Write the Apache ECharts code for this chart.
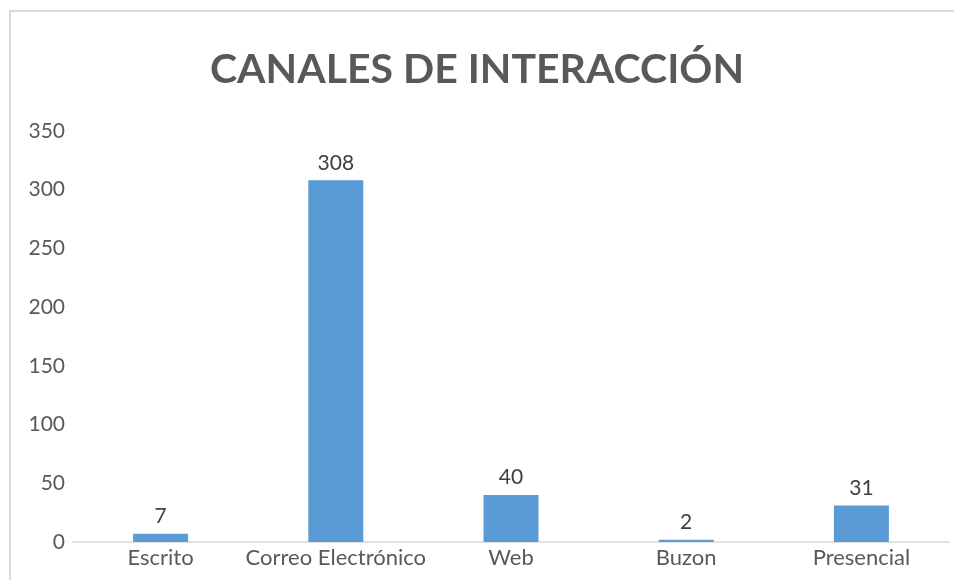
<!DOCTYPE html>
<html>
<head>
<meta charset="utf-8">
<script src="https://cdn.jsdelivr.net/npm/echarts@6/dist/echarts.min.js"></script>
<style>
  html, body { margin: 0; padding: 0; background: #fff; }
  #chart { width: 954px; height: 580px; }
</style>
</head>
<body>
<div id="chart"></div>
<script>
  var categories = ['Escrito', 'Correo Electrónico', 'Web', 'Buzon', 'Presencial']
  var values = [7, 308, 40, 2, 31]
  var yTicks = { min: 0, max: 350, interval: 50 }

  var chart = echarts.init(document.getElementById('chart'))
  chart.setOption({
    backgroundColor: '#fff',
    textStyle: { fontFamily: 'Lato' },
    graphic: [{
      type: 'rect',
      shape: { x: 10, y: 11, width: 1200, height: 1200 },
      style: { fill: 'none', stroke: '#d9d9d9', lineWidth: 2 },
      silent: true
    }],
    title: {
      text: 'CANALES DE INTERACCIÓN',
      left: 'center',
      top: 44,
      textStyle: {
        fontFamily: 'Lato',
        fontWeight: 'bold',
        fontSize: 41,
        color: '#595959'
      }
    },
    grid: {
      left: 73,
      right: 5,
      top: 131,
      bottom: 38
    },
    xAxis: {
      type: 'category',
      data: categories,
      axisLine: { lineStyle: { color: '#d9d9d9', width: 1.5 } },
      axisTick: { show: false },
      axisLabel: {
        interval: 0,
        color: '#595959',
        fontSize: 22,
        margin: 5
      }
    },
    yAxis: {
      type: 'value',
      min: yTicks.min,
      max: yTicks.max,
      interval: yTicks.interval,
      splitLine: { show: false },
      axisLine: { show: false },
      axisTick: { show: false },
      axisLabel: {
        color: '#595959',
        fontSize: 21,
        margin: 8
      }
    },
    series: [{
      type: 'bar',
      data: values,
      barWidth: 55,
      itemStyle: { color: '#5b9bd5' },
      label: {
        show: true,
        position: 'top',
        color: '#404040',
        fontSize: 21,
        distance: 7
      }
    }]
  })
</script>
</body>
</html>
